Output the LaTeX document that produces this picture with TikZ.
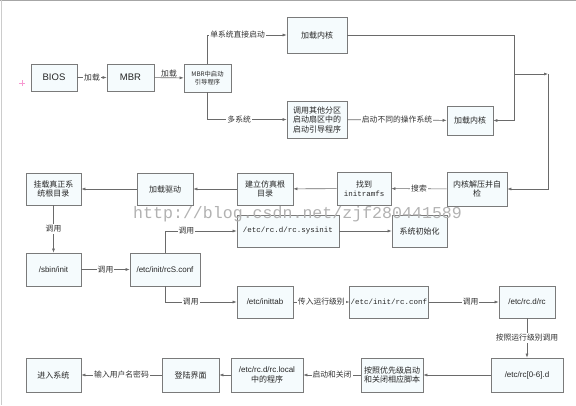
\documentclass[tikz,border=0pt]{standalone}
\usepackage{fontspec}
\setmainfont{Liberation Sans}
\setmonofont{Liberation Mono}
\newfontfamily\cjk{Noto Sans CJK SC}
\usetikzlibrary{arrows.meta}
\definecolor{boxfill}{HTML}{F5FBFD}
\definecolor{boxline}{HTML}{7A7A7A}
\definecolor{arrline}{HTML}{6A6A6A}
\tikzset{
  box/.style={draw=boxline, fill=boxfill, line width=0.7pt, inner sep=1pt, align=center,
    font=\cjk\fontsize{8}{9.5}\selectfont, text=black!85},
  lat/.style={font=\fontsize{9.5}{10}\selectfont},
  mono/.style={font=\ttfamily\fontsize{7.5}{9}\selectfont},
  arr/.style={draw=arrline, line width=0.6pt, -{Latex[length=4pt,width=3pt]}},
  lbl/.style={fill=white, inner sep=1pt, font=\cjk\fontsize{7.8}{8.5}\selectfont, text=black!80},
  wm/.style={font=\ttfamily\fontsize{16.6}{17}\selectfont, text=black!30}
}
\begin{document}
\begin{tikzpicture}[x=1pt,y=-1pt]
\useasboundingbox (0,0) rectangle (576,405);
\fill[white] (0,0) rectangle (576,405);
\draw[black!35, line width=0.8pt] (0,0.5) -- (576,0.5);
\draw[black!20, line width=0.8pt] (1.5,0) -- (1.5,405);
% pink cross
\draw[magenta!40, line width=0.5pt] (19,83) -- (25,83) (22,80) -- (22,86);

% row 1
\node[box, lat, minimum width=46pt, minimum height=27pt] (bios) at (54,77.5) {BIOS};
\node[box, lat, minimum width=47pt, minimum height=27pt] (mbr) at (130.5,77.5) {MBR};
\node[box, font=\cjk\fontsize{6.3}{7.8}\selectfont, minimum width=47pt, minimum height=28pt] (boot) at (207.5,78) {MBR中启动\\引导程序};
\node[box, minimum width=60pt, minimum height=36pt] (k1) at (317,35) {加载内核};
\node[box, minimum width=60pt, minimum height=37pt] (other) at (317,119.5) {调用其他分区\\启动扇区中的\\启动引导程序};
\node[box, minimum width=46pt, minimum height=29pt] (k2) at (470,120.5) {加载内核};

% row 2
\node[box, minimum width=60pt, minimum height=34pt] (check) at (477,189) {内核解压并自\\检};
\node[box, minimum width=54pt, minimum height=33pt] (initrd) at (364,188.5) {找到\\{\ttfamily\fontsize{7.5}{9}\selectfont initramfs}};
\node[box, minimum width=56pt, minimum height=32pt] (fake) at (265,189) {建立仿真根\\目录};
\node[box, minimum width=56pt, minimum height=32pt] (drv) at (165,189) {加载驱动};
\node[box, minimum width=55pt, minimum height=32pt] (mount) at (53.5,189) {挂载真正系\\统根目录};

% row 3
\node[box, lat, font=\fontsize{8}{9}\selectfont, minimum width=55pt, minimum height=33pt] (sbin) at (53.5,269.5) {/sbin/init};
\node[box, lat, font=\fontsize{8}{9}\selectfont, minimum width=70pt, minimum height=33pt] (rcs) at (165,269.5) {/etc/init/rcS.conf};
\node[box, mono, minimum width=102pt, minimum height=32pt] (sysinit) at (288,231) {/etc/rc.d/rc.sysinit};
\node[box, minimum width=55pt, minimum height=32pt] (sysini) at (419.5,231) {系统初始化};

% row 4
\node[box, lat, font=\fontsize{8}{9}\selectfont, minimum width=56pt, minimum height=32pt] (inittab) at (265,302) {/etc/inittab};
\node[box, mono, minimum width=70pt, minimum height=32pt] (rcconf) at (389,302) {/etc/init/rc.conf};
\node[box, lat, font=\fontsize{8}{9}\selectfont, minimum width=56pt, minimum height=32pt] (rcd) at (527,302) {/etc/rc.d/rc};

% row 5
\node[box, lat, font=\fontsize{8}{9}\selectfont, minimum width=72pt, minimum height=34pt] (rc06) at (527,375) {/etc/rc[0-6].d};
\node[box, minimum width=62pt, minimum height=34pt] (prio) at (392,375) {按照优先级启动\\和关闭相应脚本};
\node[box, minimum width=72pt, minimum height=34pt] (local) at (267,375) {{\fontspec{Liberation Sans}\fontsize{8}{9}\selectfont /etc/rc.d/rc.local}\\中的程序};
\node[box, minimum width=57pt, minimum height=34pt] (login) at (190.5,375) {登陆界面};
\node[box, minimum width=55pt, minimum height=34pt] (enter) at (53.5,375) {进入系统};

\coordinate (j1) at (514,74);
\coordinate (j2) at (548,74);

% connectors
\draw[arr] (bios) -- node[lbl] {加载} (mbr);
\draw[arr] (mbr) -- node[lbl, fill=none, above=-1pt] {加载} (boot);
\draw[arr] (boot.north) |- (k1.west) node[lbl, pos=0.69] {单系统直接启动};
\draw[arr] (boot.south) |- (other.west) node[lbl, pos=0.7] {多系统};
\draw[arr] (other) -- node[lbl] {启动不同的操作系统} (k2);
\draw[arr] (k1.east) -| (514,120.5) -- (k2.east);
\draw[arr] (j1) -- (j2);
\draw[arr] (j2) |- (check.east);
\draw[arr] (check) -- node[lbl] {搜索} (initrd);
\draw[arr] (initrd) -- (fake);
\draw[arr] (fake) -- (drv);
\draw[arr] (drv) -- (mount);
\draw[arr] (mount) -- node[lbl] {调用} (sbin);
\draw[arr] (sbin) -- node[lbl] {调用} (rcs);
\draw[arr] (rcs.north) |- (sysinit.west) node[lbl, pos=0.65] {调用};
\draw[arr] (sysinit) -- (sysini);
\draw[arr] (rcs.south) |- (inittab.west) node[lbl, pos=0.68] {调用};
\draw[arr] (inittab) -- node[lbl] {传入运行级别} (rcconf);
\draw[arr] (rcconf) -- node[lbl, pos=0.6] {调用} (rcd);
\draw[arr] (rcd) -- node[lbl] {按照运行级别调用} (rc06);
\draw[arr] (rc06) -- (prio);
\draw[arr] (prio) -- node[lbl] {启动和关闭} (local);
\draw[arr] (local) -- (login);
\draw[arr] (login) -- node[lbl] {输入用户名密码} (enter);

% watermark
\node[wm, anchor=base west, inner sep=0pt] (wmark) at (133,218) {http://blog.csdn.net/zjf280441589};
\end{tikzpicture}
\end{document}
